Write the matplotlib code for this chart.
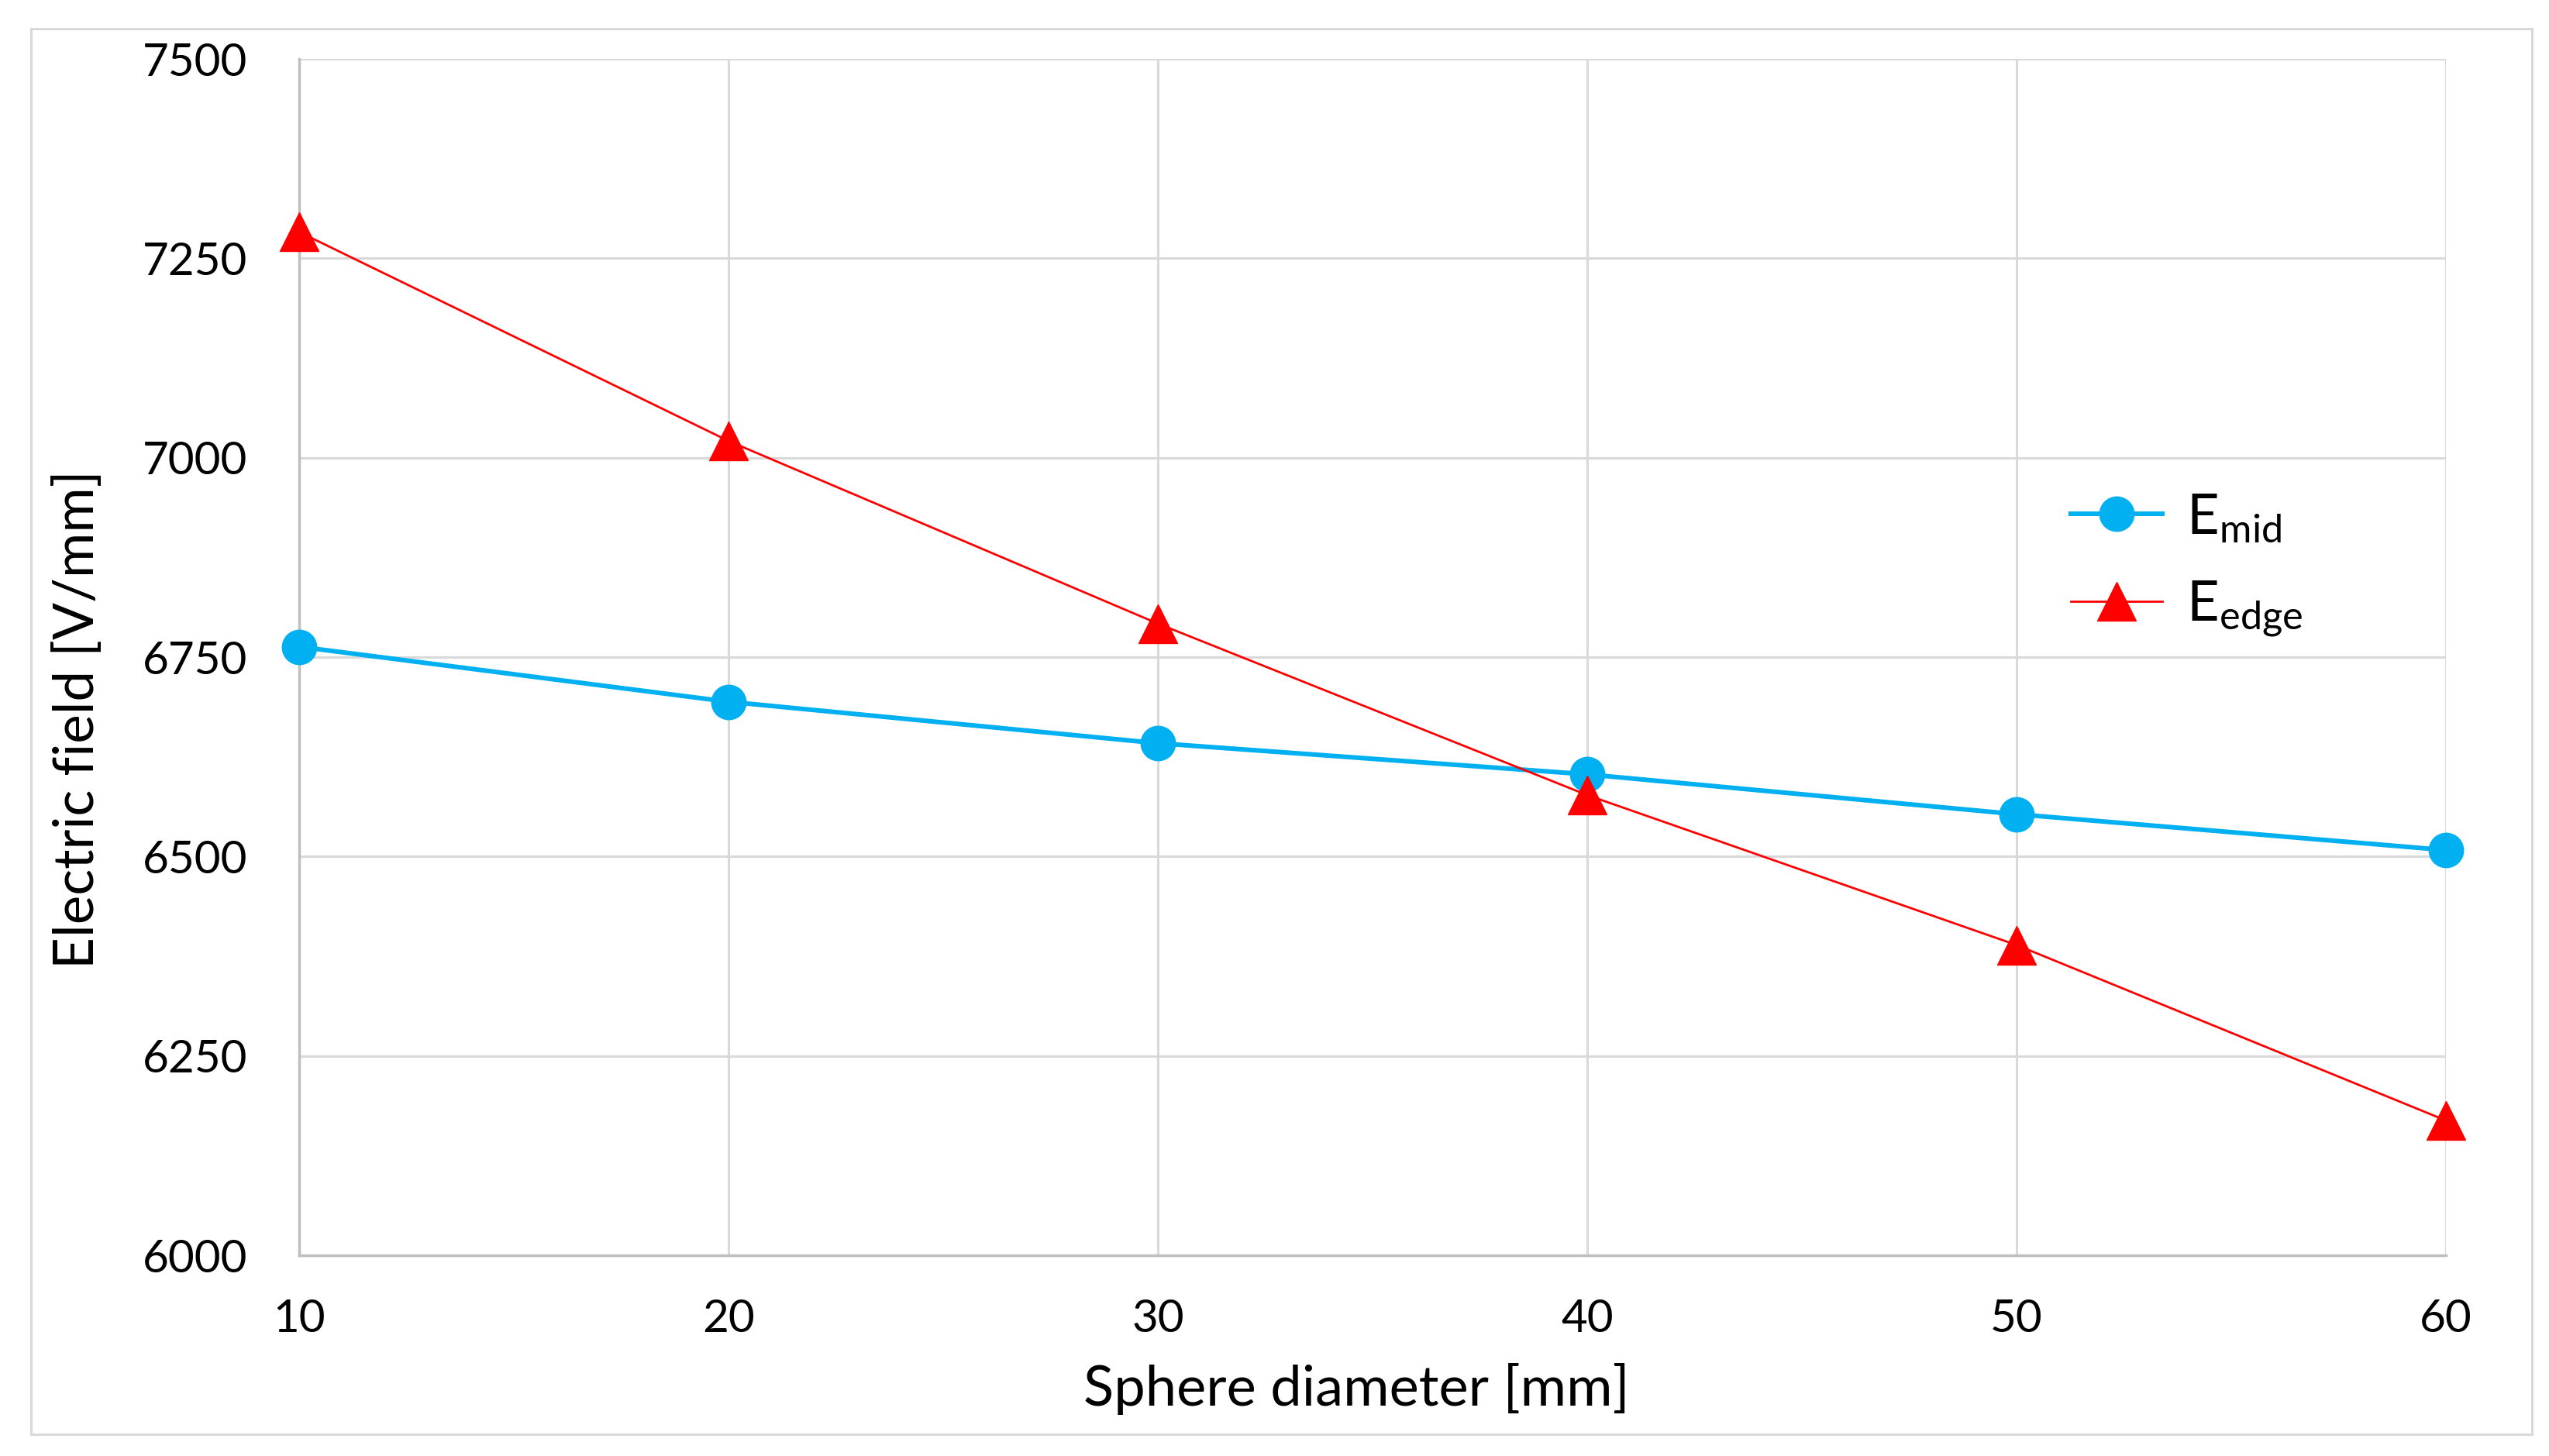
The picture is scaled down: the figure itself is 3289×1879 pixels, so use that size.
import matplotlib
matplotlib.use("Agg")
import matplotlib.pyplot as plt
from matplotlib.patches import Rectangle

plt.rcParams['font.family'] = ['Lato', 'DejaVu Sans']
plt.rcParams['mathtext.fontset'] = 'custom'
plt.rcParams['mathtext.rm'] = 'Lato'

diameters = [10, 20, 30, 40, 50, 60]
e_mid = [6763, 6694, 6642, 6603, 6553, 6508]
e_edge = [7283, 7021, 6792, 6577, 6389, 6169]
x_ticks = [10, 20, 30, 40, 50, 60]
y_ticks = [6000, 6250, 6500, 6750, 7000, 7250, 7500]

W, H = 3289, 1879
fig = plt.figure(figsize=(W / 100, H / 100), dpi=100)

# outer chart border
fig.patches.append(Rectangle((40 / W, 1 - 1851 / H), (3267 - 40) / W, (1851 - 37) / H,
                             transform=fig.transFigure, fill=False,
                             edgecolor='#D9D9D9', linewidth=2.2, zorder=0))

left, right, top, bottom = 386, 3156, 76, 1620
ax = fig.add_axes([left / W, 1 - bottom / H, (right - left) / W, (bottom - top) / H])

ax.plot(diameters, e_mid, color='#00B0F0', linewidth=4.3, marker='o',
        markersize=32, label=r'E$_{\mathregular{mid}}$', zorder=3, clip_on=False)
ax.plot(diameters, e_edge, color='#FF0000', linewidth=2.0, marker='^',
        markersize=36, label=r'E$_{\mathregular{edge}}$', zorder=4, clip_on=False)

ax.set_xlim(10, 60)
ax.set_ylim(6000, 7500)
ax.set_xticks(x_ticks)
ax.set_yticks(y_ticks)
ax.grid(True, color='#D9D9D9', linewidth=2.2)
ax.set_axisbelow(True)
for s in ['top', 'right']:
    ax.spines[s].set_visible(False)
for s in ['left', 'bottom']:
    ax.spines[s].set_color('#BFBFBF')
    ax.spines[s].set_linewidth(2.5)
ax.tick_params(axis='both', length=0, labelsize=42, colors='black')
ax.tick_params(axis='y', pad=48)
ax.tick_params(axis='x', pad=40)

fig.text(101 / W, 1 - 928 / H, 'Electric field [V/mm]', rotation=90,
         ha='center', va='center', fontsize=51)
fig.text(1750 / W, 1 - 1792 / H, 'Sphere diameter [mm]',
         ha='center', va='center', fontsize=52)

leg = ax.legend(loc='center left', bbox_to_anchor=(2672 / W, 1 - 730 / H),
                bbox_transform=fig.transFigure, frameon=False, fontsize=52,
                handlelength=1.64, handletextpad=0.42, labelspacing=0.62,
                borderpad=0, borderaxespad=0)

fig.savefig('out.png', dpi=100, facecolor='white')
